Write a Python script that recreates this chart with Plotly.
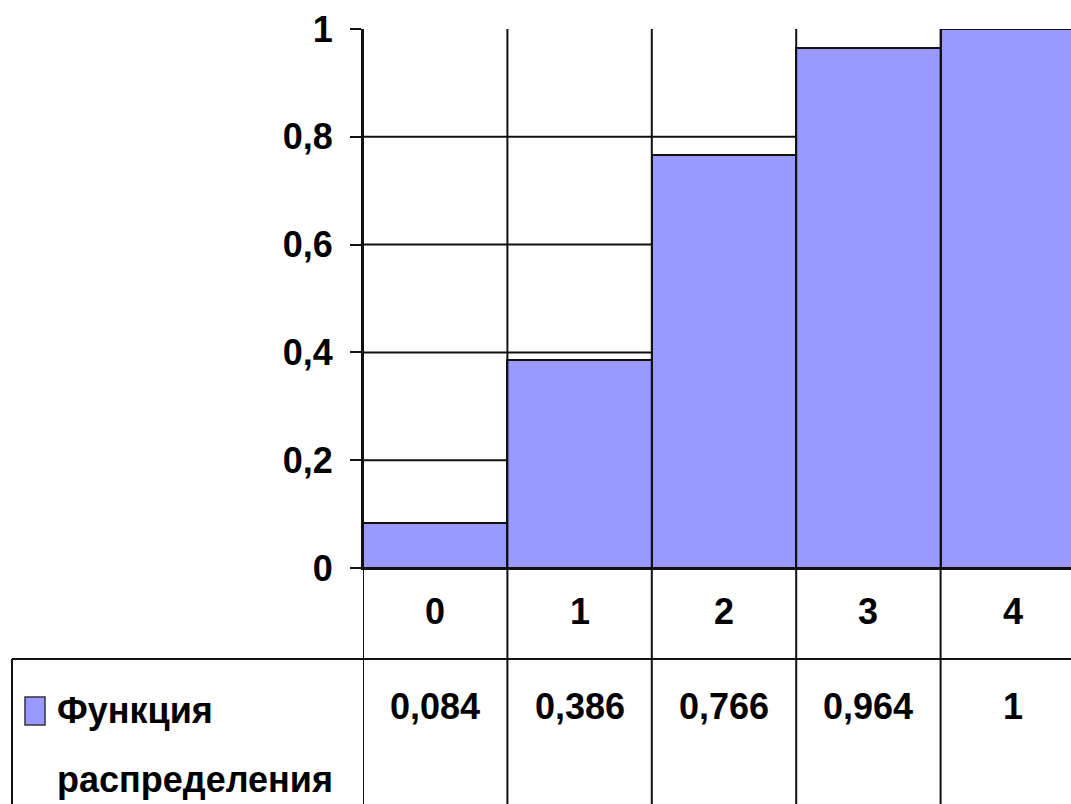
import plotly.graph_objects as go

categories = ["0", "1", "2", "3", "4"]
values = [0.084, 0.386, 0.766, 0.964, 1]
value_labels = ["0,084", "0,386", "0,766", "0,964", "1"]
series_name = ["Функция", "распределения"]
y_ticks = [0, 0.2, 0.4, 0.6, 0.8, 1]
y_tick_labels = ["0", "0,2", "0,4", "0,6", "0,8", "1"]

W, H = 1071, 804
FONT = "Liberation Sans, Arial, sans-serif"
BAR = "#9999FF"
LINE = "#111111"

def py(pix):
    return 1 - pix / H

def px(pix):
    return pix / W

x_dom = [px(363), 1]
y_dom = [py(568), py(29)]
n = len(categories)
x_range = [-0.5, -0.5 + (W - 363) / 144.4]

fig = go.Figure()
fig.add_trace(go.Bar(
    x=list(range(n)), y=values,
    marker=dict(color=BAR, line=dict(color=LINE, width=2)),
    width=1.0, showlegend=False, hoverinfo="skip",
))

shapes = []
# horizontal gridlines (excluding 0 and 1)
for v in y_ticks[1:-1]:
    shapes.append(dict(type="line", xref="x", yref="y", x0=-0.5, x1=x_range[1],
                       y0=v, y1=v, line=dict(color=LINE, width=2), layer="below"))
# vertical separators through chart and table
for i in range(n):
    shapes.append(dict(type="line", xref="x", yref="paper", x0=i - 0.5, x1=i - 0.5,
                       y0=0, y1=y_dom[1], line=dict(color=LINE, width=2), layer="above"))
# table row border
shapes.append(dict(type="line", xref="paper", yref="paper", x0=px(12), x1=1,
                   y0=py(659), y1=py(659), line=dict(color=LINE, width=2)))
# table left border
shapes.append(dict(type="line", xref="paper", yref="paper", x0=px(12), x1=px(12),
                   y0=0, y1=py(659), line=dict(color=LINE, width=2)))
# legend key
shapes.append(dict(type="rect", xref="paper", yref="paper", x0=px(25), x1=px(45),
                   y0=py(725), y1=py(697), fillcolor=BAR, line=dict(color="#333344", width=1.5)))

TXT = dict(family=FONT, size=36, color="black", weight="bold")
annotations = []
for i, c in enumerate(categories):
    annotations.append(dict(x=i, y=py(611), xref="x", yref="paper", text=c,
                            showarrow=False, xanchor="center", yanchor="middle", font=TXT))
    annotations.append(dict(x=i, y=py(706), xref="x", yref="paper", text=value_labels[i],
                            showarrow=False, xanchor="center", yanchor="middle", font=TXT))
annotations.append(dict(x=px(55), y=py(710), xref="paper", yref="paper", text=series_name[0],
                        showarrow=False, xanchor="left", yanchor="middle", font=TXT))
annotations.append(dict(x=px(55), y=py(779), xref="paper", yref="paper", text=series_name[1],
                        showarrow=False, xanchor="left", yanchor="middle", font=TXT))

fig.update_layout(
    width=W, height=H, autosize=False,
    margin=dict(l=0, r=0, t=0, b=0, autoexpand=False),
    paper_bgcolor="white", plot_bgcolor="white",
    bargap=0,
    shapes=shapes, annotations=annotations,
    xaxis=dict(domain=x_dom, range=x_range, showticklabels=False, showgrid=False,
               zeroline=False, showline=True, linecolor=LINE, linewidth=2, ticks=""),
    yaxis=dict(domain=y_dom, range=[0, 1], tickvals=y_ticks, ticktext=y_tick_labels,
               showgrid=False, zeroline=False, showline=True, linecolor=LINE, linewidth=2,
               ticks="outside", ticklen=11, tickwidth=2, tickcolor=LINE,
               ticklabelstandoff=10,
               tickfont=dict(family=FONT, size=36, color="black", weight="bold")),
)

fig.write_html("out.html")
